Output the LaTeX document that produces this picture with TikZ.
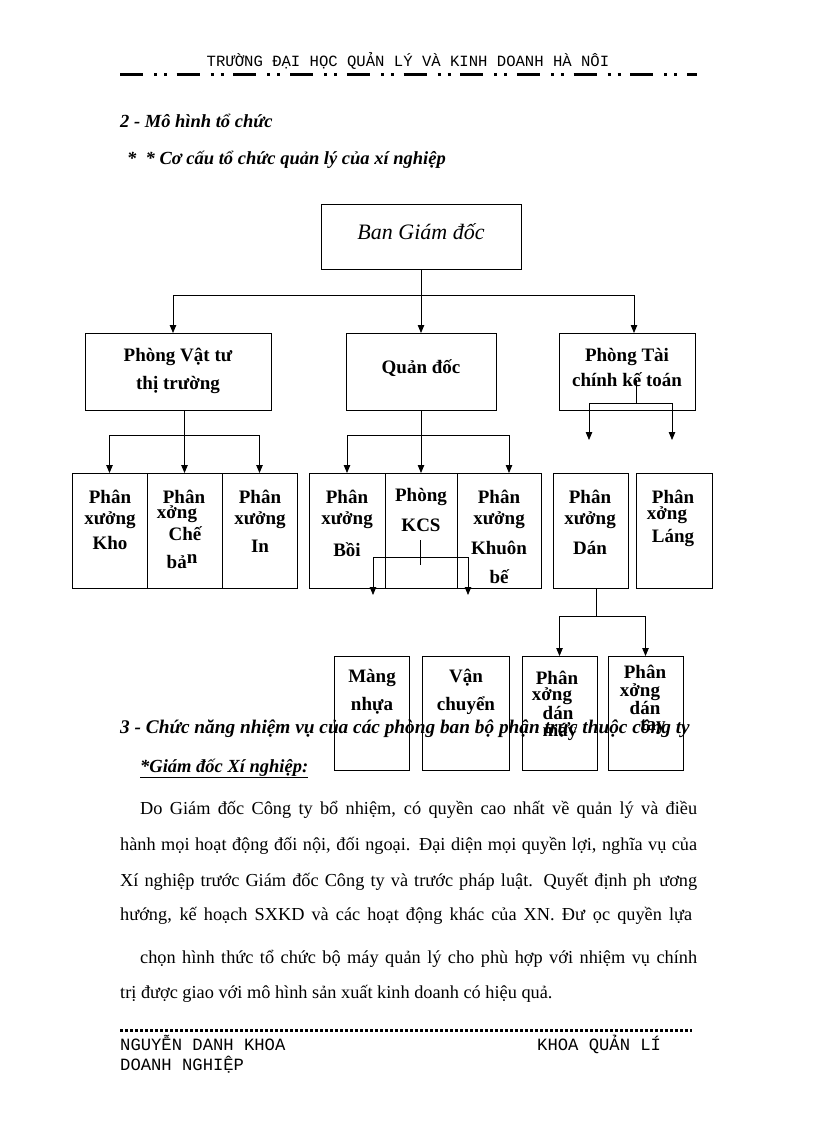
\documentclass[tikz,border=0pt]{standalone}
\usepackage{fontspec}
\setmainfont{Liberation Serif}
\newfontfamily\monof{Liberation Mono}
\usetikzlibrary{arrows.meta}
\newcommand\mkbox[5]{\node[box, minimum width={(#4-#2)*1pt}, minimum height={(#5-#3)*1pt}] (#1) at ({(#2+#4)/2},{(#3+#5)/2}) {};}
\begin{document}
\begin{tikzpicture}[x=1pt,y=-1pt,
  box/.style={draw, line width=1pt, inner sep=0pt, outer sep=0pt},
  lbl/.style={font=\fontsize{19}{21}\selectfont\bfseries, inner sep=0pt},
  conn/.style={line width=0.8pt},
  arr/.style={conn, -{Triangle[length=8pt,width=6.5pt]}},
  body/.style={font=\fontsize{18.3}{20}\selectfont, inner sep=0pt, anchor=base west},
  head/.style={font=\fontsize{18.5}{20}\selectfont\bfseries\itshape, inner sep=0pt, anchor=base west},
  hdr/.style={font=\fontsize{15.6}{17}\selectfont\monof, inner sep=0pt},
  ftr/.style={font=\fontsize{17.2}{18}\selectfont\monof, inner sep=0pt, anchor=base west}
]
\useasboundingbox[fill=white] (0,0) rectangle (816,1123);

% header
\node[hdr, anchor=base] (hdrtext) at (408,67) {TRƯỜNG ĐẠI HỌC QUẢN LÝ VÀ KINH DOANH HÀ NÔI};
\draw[line width=3pt, dash pattern=on 23pt off 11pt on 3pt off 7pt on 3pt off 9.7pt] (120,75) -- (697,75);

% headings
\node[head] (h2) at (120,128) {2 - Mô hình tổ chức};
\node[head] (h2b) at (127,165) {*\ \ * Cơ cấu tổ chức quản lý của xí nghiệp};

% boxes
\mkbox{ban}{321}{205}{521}{269}
\mkbox{pvt}{85}{333}{271}{410}
\mkbox{qd}{346}{333}{496}{410}
\mkbox{ptc}{559}{333}{695}{410}
\mkbox{kho}{72}{473}{147}{588}
\mkbox{cb}{147}{473}{222}{588}
\mkbox{pin}{222}{473}{297}{588}
\mkbox{boi}{309}{473}{385}{588}
\mkbox{kcs}{385}{473}{457}{588}
\mkbox{kb}{457}{473}{541}{588}
\mkbox{dan}{553}{473}{628}{588}
\mkbox{lang}{636}{473}{712}{588}
\mkbox{mn}{334}{656}{409}{770}
\mkbox{vc}{422}{656}{509}{770}
\mkbox{dm}{522}{656}{597}{770}
\mkbox{dt}{608}{656}{683}{770}

% connectors
\coordinate (j1) at (421,295);
\draw[conn] (ban.south) -- (j1);
\draw[arr] (j1) -| ([xshift=-5pt]pvt.north);
\draw[arr] (j1) -- (qd.north);
\draw[arr] (j1) -| ([xshift=7pt]ptc.north);

\coordinate (j2) at (184,435);
\draw[conn] ([xshift=6pt]pvt.south) -- (j2);
\draw[arr] (j2) -| (kho.north);
\draw[arr] (j2) -| (cb.north);
\draw[arr] (j2) -| (pin.north);

\coordinate (j3) at (421,435);
\draw[conn] (qd.south) -- (j3);
\draw[arr] (j3) -| (boi.north);
\draw[arr] (j3) -- (kcs.north);
\draw[arr] (j3) -| ([xshift=10pt]kb.north);

\coordinate (t0) at (636,380);
\coordinate (t1) at (636,403);
\coordinate (ta) at (589,440);
\coordinate (tb) at (672,440);
\draw[conn] (t0) -- (t1);
\draw[arr] (t1) -| (ta);
\draw[arr] (t1) -| (tb);

\coordinate (k0) at (420,540);
\coordinate (k1) at (420,565);
\coordinate (k2) at (420,557);
\coordinate (ka) at (373,595);
\coordinate (kb2) at (468,595);
\draw[conn] (k0) -- (k1);
\draw[arr] (k2) -| (ka);
\draw[arr] (k2) -| (kb2);

\coordinate (d1) at (596,616);
\draw[conn] ([xshift=5.5pt]dan.south) -- (d1);
\draw[arr] (d1) -| (dm.north);
\draw[arr] (d1) -| (dt.north);

% box texts
\node[font=\fontsize{22}{24}\selectfont\itshape, inner sep=0pt] (tban) at (421,232) {Ban Giám đốc};
\node[lbl] (tp1) at (178,357) {Phòng Vật tư};
\node[lbl] (tp2) at (178,385) {thị trường};
\node[lbl] (tq1) at (421,368) {Quản đốc};
\node[lbl] (tt1) at (627,357) {Phòng Tài};
\node[lbl] (tt2) at (627,380) {chính kế toán};

\node[lbl] (a1) at (110,497) {Phân};
\node[lbl] (a2) at (110,520) {xưởng};
\node[lbl] (a3) at (110,543) {Kho};
\node[lbl] (b1) at (184,497) {Phân};
\node[lbl] (b2) at (177,514) {xởng};
\node[lbl] (b3) at (185,534) {Chế};
\node[lbl] (b4) at (182,562) {bả\raisebox{5pt}{n}};
\node[lbl] (c1) at (260,497) {Phân};
\node[lbl] (c2) at (260,520) {xưởng};
\node[lbl] (c3) at (260,546) {In};
\node[lbl] (e1) at (347,497) {Phân};
\node[lbl] (e2) at (347,520) {xưởng};
\node[lbl] (e3) at (347,550) {Bồi};
\node[lbl] (f1) at (421,497) {Phòng};
\node[lbl] (f2) at (421,525) {KCS};
\node[lbl] (g1) at (499,497) {Phân};
\node[lbl] (g2) at (499,520) {xưởng};
\node[lbl] (g3) at (499,548) {Khuôn};
\node[lbl] (g4) at (499,577) {bế};
\node[lbl] (m1) at (590,497) {Phân};
\node[lbl] (m2) at (590,520) {xưởng};
\node[lbl] (m3) at (590,548) {Dán};
\node[lbl] (n1) at (673,497) {Phân};
\node[lbl] (n2) at (667,515) {xởng};
\node[lbl] (n3) at (673,538) {Láng};

\node[lbl] (p1) at (372,678) {Màng};
\node[lbl] (p2) at (372,706) {nhựa};
\node[lbl] (q1) at (466,678) {Vận};
\node[lbl] (q2) at (466,706) {chuyển};
\node[lbl] (r1) at (557,678) {Phân};
\node[lbl] (r2) at (552,696) {xởng};
\node[lbl] (r3) at (558,713) {dán};
\node[lbl] (r4) at (560,732) {máy};
\node[lbl] (s1) at (645,672) {Phân};
\node[lbl] (s2) at (640,692) {xởng};
\node[lbl] (s3) at (645,708) {dán};
\node[lbl] (s4) at (653,727) {tay};

% section 3
\node[head, font=\fontsize{19.3}{21}\selectfont\bfseries\itshape] (h3) at (120,733) {3 - Chức năng nhiệm vụ của các phòng ban bộ phận trực thuộc công ty};
\node[head] (h3b) at (140,772) {\underline{*Giám đốc Xí nghiệp:}};

\node[body] (l1) at (140,814) {\makebox[557pt][s]{Do Giám đốc Công ty bổ nhiệm, có quyền cao nhất về quản lý và điều}};
\node[body] (l2) at (120,850) {\makebox[577pt][s]{hành mọi hoạt động đối nội, đối ngoại. Đại diện mọi quyền lợi, nghĩa vụ của}};
\node[body] (l3) at (120,886) {\makebox[577pt][s]{Xí nghiệp trước Giám đốc Công ty và trước pháp luật. Quyết định ph\hspace{8pt}ương}};
\node[body] (l4) at (120,920) {\makebox[572pt][s]{hướng, kế hoạch SXKD và các hoạt động khác của XN. Đư\hspace{8pt}ọc quyền lựa}};
\node[body] (l5) at (140,963) {\makebox[557pt][s]{chọn hình thức tổ chức bộ máy quản lý cho phù hợp với nhiệm vụ chính}};
\node[body] (l6) at (120,998) {trị được giao với mô hình sản xuất kinh doanh có hiệu quả.};

% footer
\draw[line width=3pt, dash pattern=on 3pt off 2pt] (120,1030) -- (692,1030);
\node[ftr] (f1n) at (120,1050) {NGUYỄN DANH KHOA};
\node[ftr] (f2n) at (537,1050) {KHOA QUẢN LÍ};
\node[ftr] (f3n) at (120,1070) {DOANH NGHIỆP};
\end{tikzpicture}
\end{document}
